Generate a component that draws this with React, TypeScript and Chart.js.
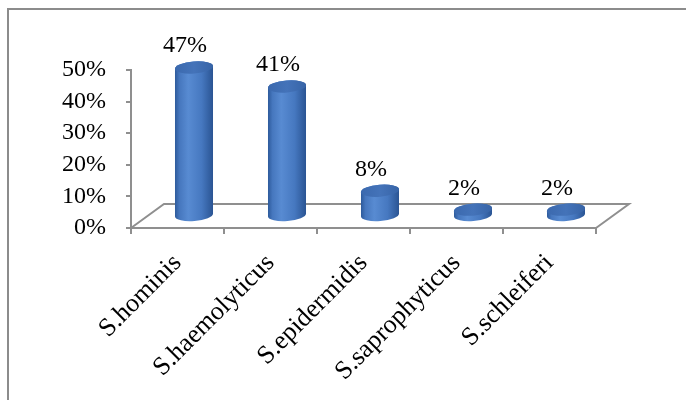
import React, { useEffect, useRef } from "react";
import { Chart, registerables } from "chart.js";

Chart.register(...registerables);

const categories = ["S.hominis", "S.haemolyticus", "S.epidermidis", "S.saprophyticus", "S.schleiferi"];
const percentages = [0.47, 0.41, 0.08, 0.02, 0.02];
const valueLabels = ["47%", "41%", "8%", "2%", "2%"];
const yMin = 0;
const yMax = 0.5;
const yStep = 0.1;

const FONT = "'Liberation Serif', 'Times New Roman', serif";
const GRAY = "#8f8f8f";
const DX = 33;
const DY = 24;

const cylinderPlugin = {
  id: "cylinder3d",
  beforeDraw(chart: any) {
    const ctx = chart.ctx;
    ctx.save();
    ctx.strokeStyle = "#8c8c8c";
    ctx.lineWidth = 2;
    ctx.beginPath();
    ctx.moveTo(8, 400);
    ctx.lineTo(8, 9);
    ctx.lineTo(686, 9);
    ctx.stroke();
    ctx.restore();
  },
  beforeDatasetsDraw(chart: any) {
    const ctx = chart.ctx;
    const a = chart.chartArea;
    ctx.save();
    ctx.strokeStyle = GRAY;
    ctx.lineWidth = 2;
    ctx.beginPath();
    ctx.moveTo(a.left, a.bottom);
    ctx.lineTo(a.left + DX, a.bottom - DY);
    ctx.lineTo(a.right + DX, a.bottom - DY);
    ctx.lineTo(a.right, a.bottom);
    ctx.stroke();
    ctx.restore();
  },
  afterDatasetsDraw(chart: any) {
    const ctx = chart.ctx;
    const meta = chart.getDatasetMeta(0);
    ctx.save();
    meta.data.forEach((el: any, i: number) => {
      const p = el.getProps(["x", "y", "base", "width"], true);
      const cx = p.x + DX / 2;
      const yTop = p.y - DY / 2;
      const yBase = p.base - DY / 2;
      const rx = p.width / 2;
      const ry = 6;
      const rot = -0.08;
      const g = ctx.createLinearGradient(cx - rx, 0, cx + rx, 0);
      g.addColorStop(0, "#2d5a9b");
      g.addColorStop(0.12, "#4677be");
      g.addColorStop(0.35, "#588bd2");
      g.addColorStop(0.7, "#4678c0");
      g.addColorStop(1, "#2a5493");
      ctx.beginPath();
      ctx.ellipse(cx, yTop, rx, ry, rot, Math.PI, 2 * Math.PI, false);
      ctx.ellipse(cx, yBase, rx, ry, rot, 0, Math.PI, false);
      ctx.closePath();
      ctx.fillStyle = g;
      ctx.fill();
      const gt = ctx.createLinearGradient(cx - rx, yTop, cx + rx, yTop);
      gt.addColorStop(0, "#3b69ae");
      gt.addColorStop(0.5, "#4473b9");
      gt.addColorStop(1, "#3764a7");
      ctx.beginPath();
      ctx.ellipse(cx, yTop, rx, ry, rot, 0, 2 * Math.PI);
      ctx.fillStyle = gt;
      ctx.fill();
      ctx.fillStyle = "#000";
      ctx.font = `24px ${FONT}`;
      ctx.textAlign = "center";
      ctx.textBaseline = "alphabetic";
      ctx.fillText(valueLabels[i], cx - 9, yTop - ry - 9);
    });
    ctx.restore();
  },
};

export default function App() {
  const ref = useRef<HTMLCanvasElement | null>(null);
  useEffect(() => {
    document.body.style.margin = "0";
    const canvas = ref.current;
    if (!canvas) return;
    const chart = new Chart(canvas, {
      type: "bar",
      data: {
        labels: categories,
        datasets: [
          {
            data: percentages,
            backgroundColor: "rgba(0,0,0,0)",
            borderWidth: 0,
            categoryPercentage: 1,
            barPercentage: 0.41,
          },
        ],
      },
      options: {
        animation: false,
        responsive: false,
        maintainAspectRatio: false,
        layout: { padding: { top: 70, right: 90, bottom: 0, left: 0 } },
        plugins: {
          legend: { display: false },
          tooltip: { enabled: false },
        },
        scales: {
          x: {
            offset: true,
            grid: {
              offset: true,
              drawOnChartArea: false,
              drawTicks: true,
              tickLength: 6,
              color: GRAY,
              lineWidth: 2,
            },
            border: { display: true, color: GRAY, width: 2 },
            ticks: {
              color: "#000",
              font: { family: FONT, size: 26 },
              minRotation: 45,
              maxRotation: 45,
              padding: 14,
              autoSkip: false,
            },
            afterFit(scale: any) {
              scale.height = 172;
            },
          },
          y: {
            min: yMin,
            max: yMax,
            grid: {
              drawOnChartArea: false,
              drawTicks: true,
              tickLength: 5,
              color: GRAY,
              lineWidth: 2,
            },
            border: { display: true, color: GRAY, width: 2 },
            ticks: {
              stepSize: yStep,
              autoSkip: false,
              color: "#000",
              font: { family: FONT, size: 24 },
              padding: 20,
              callback: (v: any) => `${Math.round(Number(v) * 100)}%`,
            },
            afterFit(scale: any) {
              scale.width = 131;
            },
          },
        },
      },
      plugins: [cylinderPlugin],
    });
    return () => chart.destroy();
  }, []);
  return (
    <div style={{ width: 686, height: 400 }}>
      <canvas ref={ref} width={686} height={400} style={{ display: "block" }} />
    </div>
  );
}
